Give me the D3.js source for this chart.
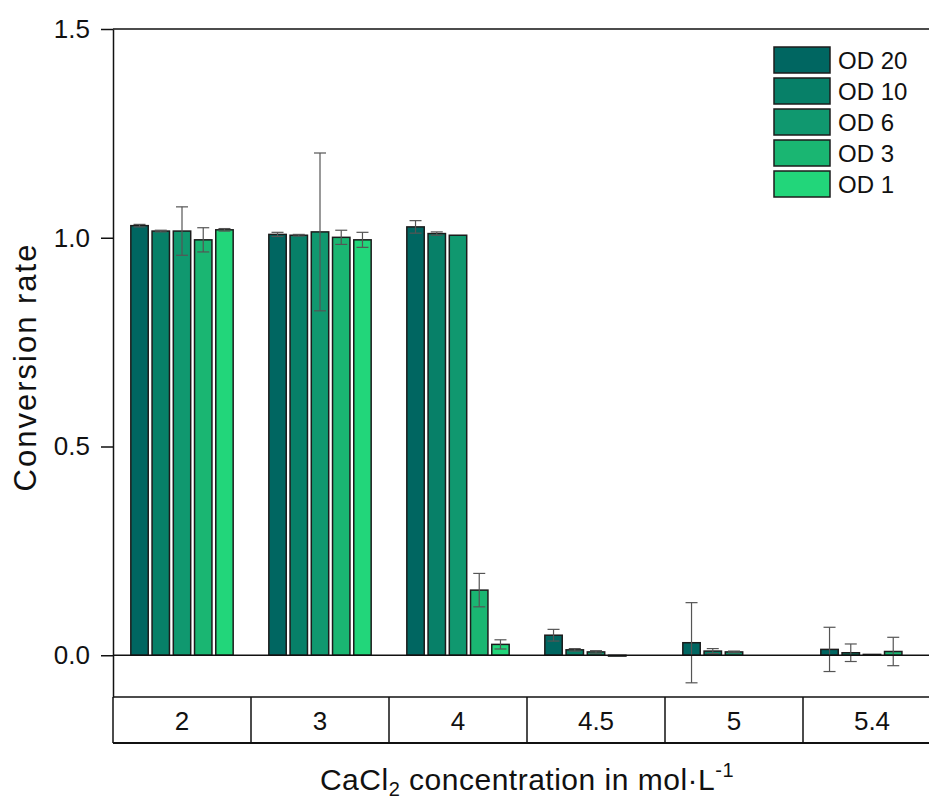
<!DOCTYPE html>
<html>
<head>
<meta charset="utf-8">
<script src="https://cdn.jsdelivr.net/npm/d3@7"></script>
<style>
  body { margin: 0; background: #fff; }
  text { font-family: "Liberation Sans", Arial, sans-serif; fill: #111; }
</style>
</head>
<body>
<div id="chart"></div>
<script>
// categories and series
const categories = ["2", "3", "4", "4.5", "5", "5.4"];
const seriesNames = ["OD 20", "OD 10", "OD 6", "OD 3", "OD 1"];
const seriesColors = ["#006661", "#078068", "#10986f", "#1ab672", "#22d67a"];

// conversion rate per category, one array per series
const od20 = [1.029, 1.008, 1.026, 0.048, 0.030, 0.014];
const od10 = [1.016, 1.006, 1.010, 0.013, 0.010, 0.006];
const od6 = [1.016, 1.014, 1.006, 0.008, 0.008, 0.002];
const od3 = [0.995, 1.001, 0.156, -0.002, 0, 0.009];
const od1 = [1.019, 0.995, 0.026, 0, 0, 0];

// standard deviations
const od20Err = [0.003, 0.005, 0.015, 0.014, 0.096, 0.053];
const od10Err = [0.002, 0.002, 0.004, 0.003, 0.006, 0.021];
const od6Err = [0.058, 0.189, 0, 0.003, 0.002, 0];
const od3Err = [0.029, 0.017, 0.040, 0, 0, 0.034];
const od1Err = [0.003, 0.018, 0.011, 0, 0, 0];

const yTicks = [0, 0.5, 1.0, 1.5];

const values = [od20, od10, od6, od3, od1];
const errors = [od20Err, od10Err, od6Err, od3Err, od1Err];

const rows = [];
categories.forEach((c, i) => {
    seriesNames.forEach((s, j) => {
        rows.push({cat: c, series: s, idx: j, value: values[j][i], err: errors[j][i]});
    });
});

const W = 929, H = 803;
const plotLeft = 113, plotRight = 941, plotTop = 29, axisBottom = 697, tableBottom = 743;

const svg = d3.select('#chart').append('svg').attr('width', W).attr('height', H);

const y = d3.scaleLinear().domain([-0.1, 1.5]).range([axisBottom, plotTop]);
const x0 = d3.scaleBand().domain(categories).range([plotLeft, plotRight]).padding(0);
const x1 = d3.scaleBand().domain(seriesNames).range([14, 124]).padding(0.18);
const color = d3.scaleOrdinal().domain(seriesNames).range(seriesColors);

// bars
svg.append('g').selectAll('rect')
    .data(rows)
    .enter().append('rect')
    .attr('x', d => x0(d.cat) + x1(d.series))
    .attr('y', d => y(Math.max(0, d.value)))
    .attr('width', x1.bandwidth())
    .attr('height', d => Math.abs(y(d.value) - y(0)))
    .attr('fill', d => color(d.series))
    .attr('stroke', '#1c1c1c')
    .attr('stroke-width', 1.5);

// error bars
const eb = svg.append('g').attr('stroke', '#555').attr('stroke-width', 1.2);
rows.filter(d => d.err > 0).forEach(d => {
    const cx = x0(d.cat) + x1(d.series) + x1.bandwidth() / 2;
    const y1 = y(d.value + d.err), y2 = y(d.value - d.err);
    eb.append('line').attr('x1', cx).attr('x2', cx).attr('y1', y1).attr('y2', y2);
    eb.append('line').attr('x1', cx - 6).attr('x2', cx + 6).attr('y1', y1).attr('y2', y1);
    eb.append('line').attr('x1', cx - 6).attr('x2', cx + 6).attr('y1', y2).attr('y2', y2);
});

// zero line
svg.append('line')
    .attr('x1', plotLeft).attr('x2', plotRight)
    .attr('y1', y(0)).attr('y2', y(0))
    .attr('stroke', '#111').attr('stroke-width', 1.5);

// frame top
svg.append('line')
    .attr('x1', plotLeft).attr('x2', plotRight)
    .attr('y1', plotTop).attr('y2', plotTop)
    .attr('stroke', '#111').attr('stroke-width', 1.5);

// y axis
const yAxis = svg.append('g')
    .attr('transform', `translate(${plotLeft},0)`)
    .call(d3.axisLeft(y).tickValues(yTicks).tickSize(12).tickSizeOuter(0).tickFormat(d3.format('.1f')));
yAxis.select('.domain').attr('stroke', '#111').attr('stroke-width', 1.5);
yAxis.selectAll('.tick line').attr('stroke', '#111').attr('stroke-width', 1.5);
yAxis.selectAll('.tick text')
    .attr('x', -23)
    .style('font-size', '26px')
    .style('font-family', '"Liberation Sans", Arial, sans-serif')
    .attr('fill', '#111');

// category table
const table = svg.append('g');
table.append('line').attr('x1', plotLeft).attr('x2', plotRight).attr('y1', axisBottom).attr('y2', axisBottom)
    .attr('stroke', '#111').attr('stroke-width', 1.5);
table.append('line').attr('x1', plotLeft).attr('x2', plotRight).attr('y1', tableBottom).attr('y2', tableBottom)
    .attr('stroke', '#111').attr('stroke-width', 2);
categories.forEach(c => {
    table.append('line')
        .attr('x1', x0(c)).attr('x2', x0(c))
        .attr('y1', axisBottom).attr('y2', tableBottom)
        .attr('stroke', '#111').attr('stroke-width', 1.5);
});
table.selectAll('text')
    .data(categories)
    .enter().append('text')
    .attr('x', d => x0(d) + x0.bandwidth() / 2)
    .attr('y', 730)
    .attr('text-anchor', 'middle')
    .style('font-size', '26px')
    .text(d => d);

// legend
const legend = svg.append('g').attr('transform', 'translate(774,47)');
seriesNames.forEach((s, i) => {
    const g = legend.append('g').attr('transform', `translate(0,${i * 31})`);
    g.append('rect')
        .attr('width', 56).attr('height', 26)
        .attr('fill', color(s))
        .attr('stroke', '#1c1c1c').attr('stroke-width', 1.5);
    g.append('text')
        .attr('x', 64).attr('y', 22)
        .style('font-size', '24px')
        .text(s);
});

// axis titles
svg.append('text')
    .attr('transform', 'translate(36,367) rotate(-90)')
    .attr('text-anchor', 'middle')
    .style('font-size', '31px')
    .style('letter-spacing', '2px')
    .text('Conversion rate');

const xt = svg.append('text')
    .attr('x', (plotLeft + plotRight) / 2)
    .attr('y', 790)
    .attr('text-anchor', 'middle')
    .style('font-size', '30px')
    .style('letter-spacing', '0.5px');
xt.append('tspan').text('CaCl');
xt.append('tspan').attr('dy', 6).style('font-size', '20px').text('2');
xt.append('tspan').attr('dy', -6).text(' concentration in mol·L');
xt.append('tspan').attr('dy', -13).style('font-size', '20px').text('-1');
</script>
</body>
</html>
